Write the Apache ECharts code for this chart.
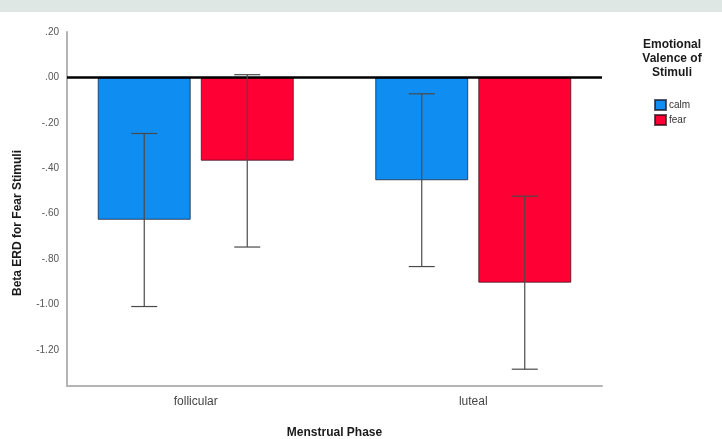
<!DOCTYPE html>
<html>
<head>
<meta charset="utf-8">
<script src="https://cdn.jsdelivr.net/npm/echarts@6/dist/echarts.min.js"></script>
<style>
  html, body { margin: 0; padding: 0; background: #ffffff; }
  #chart { width: 722px; height: 439px; }
</style>
</head>
<body>
<div id="chart"></div>
<script>
// Menstrual phase groups and the two stimulus valences
const categories = ['follicular', 'luteal'];
const seriesNames = ['calm', 'fear'];

// Mean beta ERD per group
const calmMean = [-0.627, -0.453];
const fearMean = [-0.367, -0.904];

// Error bar limits (lower, upper)
const calmLow = [-1.009, -0.833];
const calmHigh = [-0.247, -0.072];
const fearLow = [-0.747, -1.285];
const fearHigh = [0.012, -0.523];

// Value axis range
const yMin = -1.359;
const yMax = 0.2;

const FONT = '"Liberation Sans", Arial, sans-serif';
const CALM_COLOR = '#0F8DF0';
const FEAR_COLOR = '#FF0035';
const BAR_WIDTH = 93;
const BAR_SPACING = 10;
const CAP = 13;

function fmtTick(v) {
  let s = Math.abs(v) < 1e-9 ? '0.00' : v.toFixed(2);
  return s.replace(/^(-?)0\./, '$1.');
}

function errorBars(name, low, high, side) {
  return {
    name: name + ' error',
    type: 'custom',
    xAxisIndex: 1,
    yAxisIndex: 1,
    z: 5,
    silent: true,
    data: categories.map((c, i) => [i, low[i], high[i]]),
    encode: { x: 0, y: [1, 2] },
    renderItem(params, api) {
      const i = api.value(0);
      const pLo = api.coord([i, api.value(1)]);
      const pHi = api.coord([i, api.value(2)]);
      const x = pLo[0] + side * (BAR_WIDTH + BAR_SPACING) / 2;
      const style = { stroke: '#4a4a4a', lineWidth: 1.2 };
      return {
        type: 'group',
        children: [
          { type: 'line', shape: { x1: x, y1: pHi[1], x2: x, y2: pLo[1] }, style },
          { type: 'line', shape: { x1: x - CAP, y1: pHi[1], x2: x + CAP, y2: pHi[1] }, style },
          { type: 'line', shape: { x1: x - CAP, y1: pLo[1], x2: x + CAP, y2: pLo[1] }, style }
        ]
      };
    }
  };
}

const chart = echarts.init(document.getElementById('chart'), null, { renderer: 'canvas' });

chart.setOption({
  animation: false,
  backgroundColor: '#ffffff',
  textStyle: { fontFamily: FONT },
  grid: [
    // frame with visible axes
    { left: 67, right: 120, top: 32, bottom: 53, outerBoundsMode: 'none', containLabel: false },
    // bar layout grid
    { left: 57, right: 110, top: 32, bottom: 53, outerBoundsMode: 'none', containLabel: false }
  ],
  xAxis: [
    {
      gridIndex: 0,
      type: 'category',
      data: categories,
      axisLine: { onZero: false, lineStyle: { color: '#b4b4b4', width: 2 } },
      axisTick: { show: false },
      axisLabel: { show: false },
      name: 'Menstrual Phase',
      nameLocation: 'middle',
      nameGap: 41,
      nameTextStyle: { fontFamily: FONT, fontSize: 12, fontWeight: 'bold', color: '#1a1a1a' }
    },
    {
      gridIndex: 1,
      type: 'category',
      data: categories,
      axisLine: { show: false, onZero: false },
      axisTick: { show: false },
      axisLabel: { fontFamily: FONT, fontSize: 12, color: '#444', margin: 10 }
    }
  ],
  yAxis: [
    {
      gridIndex: 0,
      type: 'value',
      min: yMin,
      max: yMax,
      splitNumber: 8,
      axisLine: { show: true, lineStyle: { color: '#b4b4b4', width: 2 } },
      axisTick: { show: false },
      splitLine: { show: false },
      axisLabel: {
        fontFamily: FONT, fontSize: 10, color: '#555', margin: 8,
        showMinLabel: false,
        formatter: fmtTick
      }
    },
    {
      gridIndex: 1,
      type: 'value',
      min: yMin,
      max: yMax,
      show: false
    }
  ],
  legend: {
    orient: 'vertical',
    left: 649,
    top: 94,
    itemWidth: 11,
    itemHeight: 10,
    itemGap: 3,
    icon: 'rect',
    data: seriesNames,
    textStyle: { fontFamily: FONT, fontSize: 10, color: '#333', padding: [0, 0, 0, -2] }
  },
  graphic: [
    {
      type: 'rect',
      left: 0, top: 0,
      shape: { width: 722, height: 12 },
      style: { fill: '#dfe7e4' },
      silent: true
    },
    {
      type: 'text',
      x: 672, y: 38,
      style: {
        text: 'Emotional\nValence of\nStimuli',
        font: 'bold 12px ' + FONT,
        fill: '#1a1a1a',
        align: 'center',
        lineHeight: 14
      }
    },
    {
      type: 'text',
      x: 18, y: 223,
      rotation: Math.PI / 2,
      style: {
        text: 'Beta ERD for Fear Stimuli',
        font: 'bold 12px ' + FONT,
        fill: '#1a1a1a',
        align: 'center',
        verticalAlign: 'middle'
      }
    }
  ],
  series: [
    {
      // zero reference line across the frame
      name: 'reference',
      type: 'line',
      xAxisIndex: 0,
      yAxisIndex: 0,
      data: [],
      silent: true,
      markLine: {
        silent: true,
        symbol: 'none',
        label: { show: false },
        lineStyle: { color: '#000', width: 2.6, type: 'solid' },
        data: [{ yAxis: 0 }]
      },
      z: 6
    },
    {
      name: 'calm',
      type: 'bar',
      xAxisIndex: 1,
      yAxisIndex: 1,
      data: calmMean,
      barWidth: BAR_WIDTH,
      barGap: (BAR_SPACING / BAR_WIDTH * 100).toFixed(1) + '%',
      itemStyle: { color: CALM_COLOR, borderColor: 'rgba(20,20,40,0.7)', borderWidth: 1 }
    },
    {
      name: 'fear',
      type: 'bar',
      xAxisIndex: 1,
      yAxisIndex: 1,
      data: fearMean,
      barWidth: BAR_WIDTH,
      barGap: (BAR_SPACING / BAR_WIDTH * 100).toFixed(1) + '%',
      itemStyle: { color: FEAR_COLOR, borderColor: 'rgba(40,10,20,0.7)', borderWidth: 1 }
    },
    errorBars('calm', calmLow, calmHigh, -1),
    errorBars('fear', fearLow, fearHigh, 1)
  ]
});
</script>
</body>
</html>
